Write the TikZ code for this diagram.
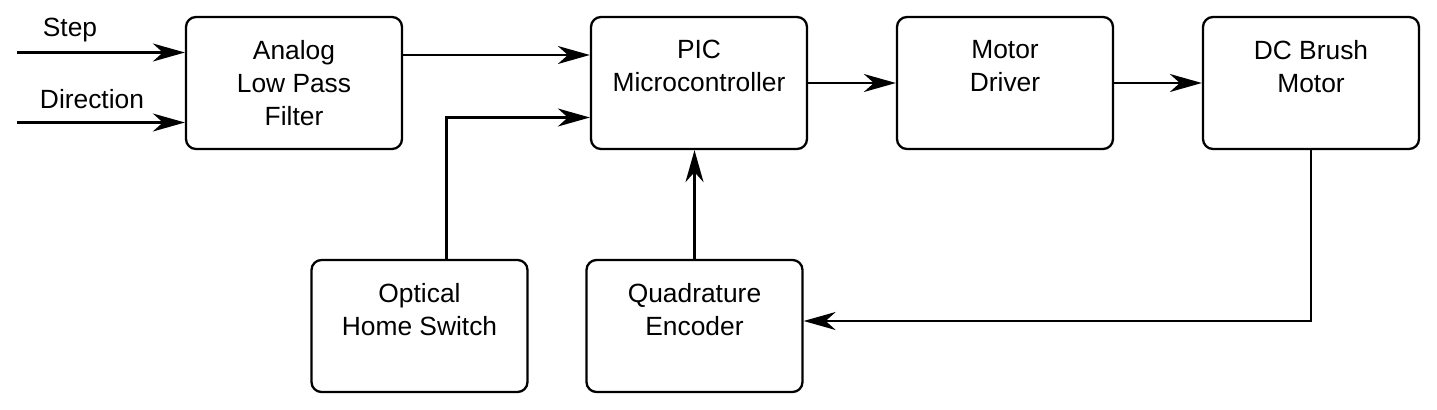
\documentclass[tikz,border=0pt]{standalone}
\usepackage{fontspec}
\setmainfont{Liberation Sans}
\usetikzlibrary{positioning,arrows.meta,calc}
\tikzset{
	box/.style={draw, rounded corners=0.2cm, line width=1.3pt,
		minimum width=4.32cm, minimum height=2.64cm},
	boxtext/.style={align=center, inner sep=0pt,
		font=\fontsize{15}{18.8}\selectfont},
	flow/.style={-{Stealth[length=0.64cm,width=0.36cm,inset=0.2cm]}, line width=1.3pt},
	sig/.style={anchor=base, inner sep=0pt, font=\fontsize{15}{18.8}\selectfont},
}
\begin{document}
\begin{tikzpicture}
		\useasboundingbox (0,0) rectangle (28.74,-8.2);
		
		% ================= Top row =================
		\node[box] (filter) at (5.88,-1.66) {};
		\node[boxtext, below=0.48cm of filter.north] (filterT) {Analog\\Low Pass\\Filter};
		
		\node[box] (pic) at (13.98,-1.66) {};
		\node[boxtext, below=0.48cm of pic.north] (picT) {PIC\\Microcontroller};
		
		\node[box] (driver) at (20.10,-1.66) {};
		\node[boxtext, below=0.48cm of driver.north] (driverT) {Motor\\Driver};
		
		\node[box] (motor) at (26.22,-1.66) {};
		\node[boxtext, below=0.48cm of motor.north] (motorT) {DC Brush\\Motor};
		
		% ================= Bottom row =================
		\node[box] (home) at (8.39,-6.52) {};
		\node[boxtext, below=0.48cm of home.north] (homeT) {Optical\\Home Switch};
		
		\node[box] (encoder) at (13.89,-6.52) {};
		\node[boxtext, below=0.48cm of encoder.north] (encoderT) {Quadrature\\Encoder};
		
		% ================= Inputs =================
		\coordinate (stepIn) at (0.34,-1.05);
		\coordinate (dirIn) at (0.34,-2.45);
		\draw[flow] (stepIn) -- (stepIn -| filter.west);
		\draw[flow] (dirIn) -- (dirIn -| filter.west);
		\node[sig] (stepL) at (1.40,-0.74) {Step};
		\node[sig] (dirL) at (1.84,-2.18) {Direction};
		
		% ================= Connections =================
		\draw[flow] ([yshift=0.56cm]filter.east) -- ([yshift=0.56cm]pic.west);
		\draw[flow] ([xshift=0.54cm]home.north) |- ([yshift=-0.69cm]pic.west);
		\draw[flow] (encoder.north) -- (encoder.north |- pic.south);
		\draw[flow] (pic.east) -- (driver.west);
		\draw[flow] (driver.east) -- (motor.west);
		\draw[flow] (motor.south) |- ([yshift=0.1cm]encoder.east);
		
\end{tikzpicture}
\end{document}
